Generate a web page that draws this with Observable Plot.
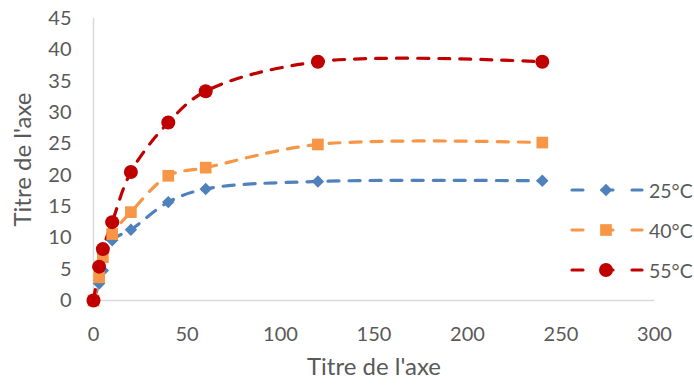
<!DOCTYPE html>
<html>
<head>
<meta charset="utf-8">
<script src="https://cdn.jsdelivr.net/npm/d3@7"></script>
<script src="https://cdn.jsdelivr.net/npm/@observablehq/plot@0.6"></script>
<style>
  html, body { margin: 0; padding: 0; background: #fff; }
  #chart { position: relative; width: 694px; height: 385px; font-family: Lato, "Open Sans", sans-serif; color: #595959; }
  #legend { position: absolute; left: 568px; top: 176px; display: flex; flex-direction: column; gap: 12px; }
  .item { display: flex; align-items: center; height: 28px; font-size: 19.5px; }
  .item svg { margin-right: 3px; }
</style>
</head>
<body>
<div id="chart"></div>
<script>
// Sampling times (min) and measured values for each temperature
const times = [0, 3, 5, 10, 20, 40, 60, 120, 240];
const series = ["25°C", "40°C", "55°C"];
const v25 = [0, 2.7, 4.8, 9.6, 11.3, 15.7, 17.8, 19.0, 19.1];
const v40 = [0, 3.7, 6.9, 10.6, 14.1, 19.9, 21.2, 24.9, 25.2];
const v55 = [0, 5.4, 8.2, 12.5, 20.5, 28.4, 33.4, 38.1, 38.1];
const xTicks = [0, 50, 100, 150, 200, 250, 300];
const yTicks = [0, 5, 10, 15, 20, 25, 30, 35, 40, 45];
const axisTitle = "Titre de l'axe";

const colors = ["#4f81bd", "#f79646", "#c00000"];
const symbols = ["diamond2", "square", "circle"];
const radii = [5.6, 6.6, 7];

const values = [v25, v40, v55];
const rows = series.flatMap((s, i) => times.map((t, j) => ({series: s, t, v: values[i][j]})));

const dash = "11,10";

const plot = Plot.plot({
  width: 694,
  height: 385,
  marginLeft: 93,
  marginRight: 40,
  marginTop: 18,
  marginBottom: 85,
  style: {fontFamily: "Lato, 'Open Sans', sans-serif", fontSize: "20px", color: "#595959", background: "#fff"},
  x: {domain: [0, 300]},
  y: {domain: [0, 45]},
  marks: [
    Plot.ruleY([0], {stroke: "#d9d9d9", strokeWidth: 1.5}),
    Plot.ruleX([0], {stroke: "#d9d9d9", strokeWidth: 1.5}),
    Plot.axisX({ticks: xTicks, tickSize: 0, tickPadding: 26, label: null}),
    Plot.axisY({ticks: yTicks, tickSize: 0, tickPadding: 22, label: null}),
    // axis titles
    Plot.text([axisTitle], {frameAnchor: "bottom", lineAnchor: "middle", textAnchor: "middle", dy: 67, fontSize: 24, fill: "#595959"}),
    Plot.text([axisTitle], {frameAnchor: "left", lineAnchor: "middle", textAnchor: "middle", rotate: -90, dx: -70, fontSize: 24, fill: "#595959"}),
    ...series.map((s, i) => Plot.line(rows.filter(d => d.series === s), {
      x: "t", y: "v", stroke: colors[i], strokeWidth: 3.2, strokeDasharray: dash, strokeLinecap: "round", curve: "catmull-rom"
    })),
    ...series.map((s, i) => Plot.dot(rows.filter(d => d.series === s), {
      x: "t", y: "v", fill: colors[i], symbol: symbols[i], r: radii[i], stroke: "none"
    }))
  ]
});

const chart = document.getElementById("chart");
chart.appendChild(plot);

// Legend: dashed line segment with the series marker, then the label
const legend = document.createElement("div");
legend.id = "legend";
series.forEach((s, i) => {
  const item = document.createElement("div");
  item.className = "item";
  const sw = d3.create("svg").attr("width", 78).attr("height", 28);
  sw.append("line").attr("x1", 4).attr("x2", 74).attr("y1", 14).attr("y2", 14)
    .attr("stroke", colors[i]).attr("stroke-width", 3.2).attr("stroke-linecap", "round")
    .attr("stroke-dasharray", "11,19");
  const sym = {diamond2: d3.symbolDiamond2, square: d3.symbolSquare, circle: d3.symbolCircle}[symbols[i]];
  sw.append("path").attr("transform", "translate(38,14)")
    .attr("d", d3.symbol(sym, Math.PI * radii[i] * radii[i])()).attr("fill", colors[i]);
  item.appendChild(sw.node());
  const label = document.createElement("span");
  label.textContent = s;
  item.appendChild(label);
  legend.appendChild(item);
});
chart.appendChild(legend);
</script>
</body>
</html>
